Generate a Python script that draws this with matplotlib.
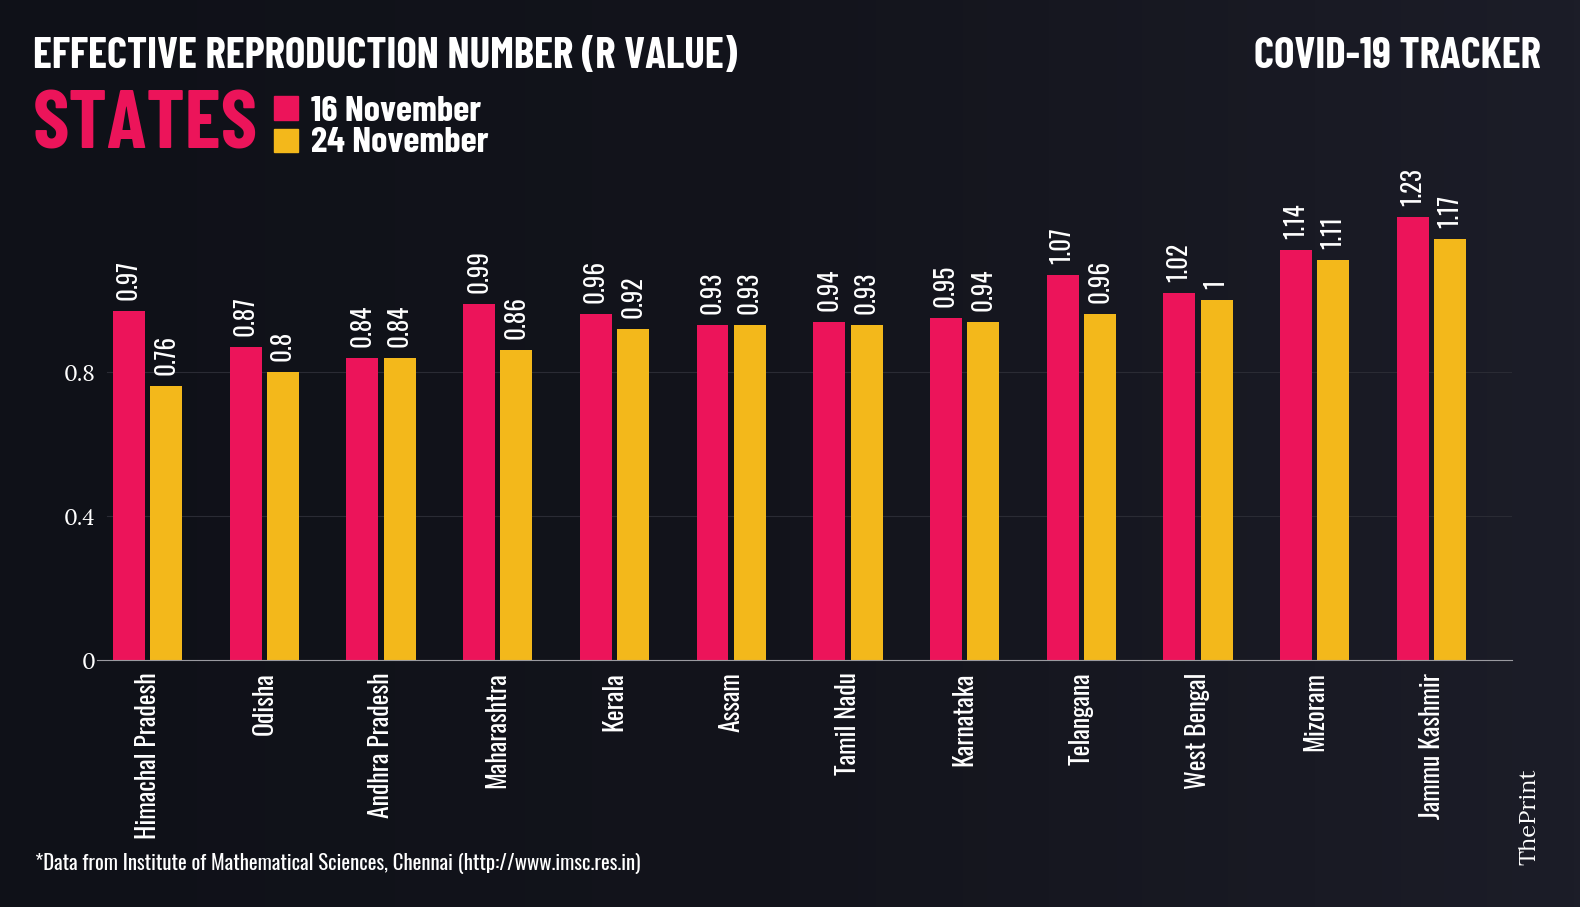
import matplotlib
matplotlib.use("Agg")
import matplotlib.pyplot as plt
import numpy as np
from matplotlib.colors import LinearSegmentedColormap

states = ["Himachal Pradesh", "Odisha", "Andhra Pradesh", "Maharashtra", "Kerala", "Assam",
          "Tamil Nadu", "Karnataka", "Telangana", "West Bengal", "Mizoram", "Jammu Kashmir"]
r_nov16 = [0.97, 0.87, 0.84, 0.99, 0.96, 0.93, 0.94, 0.95, 1.07, 1.02, 1.14, 1.23]
r_nov24 = [0.76, 0.8, 0.84, 0.86, 0.92, 0.93, 0.93, 0.94, 0.96, 1, 1.11, 1.17]
legend_labels = ["16 November", "24 November"]
yticks = [0, 0.4, 0.8]

bg = "#12131b"
pink = "#ec145a"
yellow = "#f3b81b"

cond = ["Oswald", "Antonio", "Archivo Narrow", "DejaVu Sans"]
head = ["Barlow Condensed", "Roboto Condensed", "Oswald", "DejaVu Sans"]
serif = ["Lora", "Libre Baskerville", "DejaVu Serif"]

fig = plt.figure(figsize=(15.8, 9.07), dpi=100, facecolor=bg)

# background gradient, darker left, a bit lighter right
bgax = fig.add_axes([0, 0, 1, 1], zorder=-10)
grad = np.linspace(0, 1, 256).reshape(1, -1)
cmap = LinearSegmentedColormap.from_list("bg", ["#0f1118", "#13141c", "#1c1d28"])
bgax.imshow(grad, aspect="auto", cmap=cmap, extent=[0, 1, 0, 1])
bgax.axis("off")

ax = fig.add_axes([0.0614, 0.2723, 0.8956, 0.516])
ax.patch.set_alpha(0)

x = list(range(len(states)))
w = 0.274
off = 0.16
for t in yticks[1:]:
    ax.axhline(t, xmin=0.007, color="#2a2b34", linewidth=0.8, zorder=0)
b1 = ax.bar([i - off for i in x], r_nov16, width=w, color=pink)
b2 = ax.bar([i + off for i in x], r_nov24, width=w, color=yellow)

for bars, vals in ((b1, r_nov16), (b2, r_nov24)):
    for b, v in zip(bars, vals):
        ax.annotate(f"{v:g}", (b.get_x() + b.get_width() / 2, v), xytext=(0, 8),
                    textcoords="offset points", rotation=90, ha="center", va="bottom",
                    color="white", fontsize=18, family=cond, clip_on=False)

ax.set_xlim(-0.433, 11.69)
ax.set_ylim(0, 1.3)
ax.set_yticks(yticks)
ax.set_yticklabels(["0", "0.4", "0.8"], family=serif, fontsize=16, color="white")
ax.tick_params(axis="y", length=0, pad=1)
ax.set_xticks(x)
ax.set_xticklabels(states, rotation=90, family=cond, fontsize=18.5,
                   color="white", va="top")
ax.tick_params(axis="x", length=0, pad=9)
for s in ["top", "right", "left"]:
    ax.spines[s].set_visible(False)
ax.spines["bottom"].set_color("#9a9aa0")

fig.text(0.021, 0.938, "EFFECTIVE REPRODUCTION NUMBER (R VALUE)", color="white", fontsize=31,
         fontweight="bold", family=head, va="center")
fig.text(0.975, 0.938, "COVID-19 TRACKER", color="white", fontsize=31,
         fontweight="bold", family=head, va="center", ha="right")
fig.text(0.021, 0.859, "STATES", color=pink, fontsize=59, fontweight="bold", family=head,
         va="center")
fig.patches.append(plt.Rectangle((0.1734, 0.868), 0.0152, 0.026, transform=fig.transFigure,
                                 color=pink))
fig.patches.append(plt.Rectangle((0.1734, 0.832), 0.0152, 0.026, transform=fig.transFigure,
                                 color=yellow))
fig.text(0.197, 0.877, legend_labels[0], color="white", fontsize=26.5, fontweight="bold",
         family=head, va="center")
fig.text(0.197, 0.842, legend_labels[1], color="white", fontsize=26.5, fontweight="bold",
         family=head, va="center")
fig.text(0.022, 0.048, "*Data from Institute of Mathematical Sciences, Chennai (http://www.imsc.res.in)",
         color="white", fontsize=15, family=cond, va="center")
fig.text(0.968, 0.099, "ThePrint", color="white", fontsize=17, fontweight="bold",
         family=serif, rotation=90, ha="center", va="center")

fig.savefig("out.png", facecolor=bg, dpi=100)
